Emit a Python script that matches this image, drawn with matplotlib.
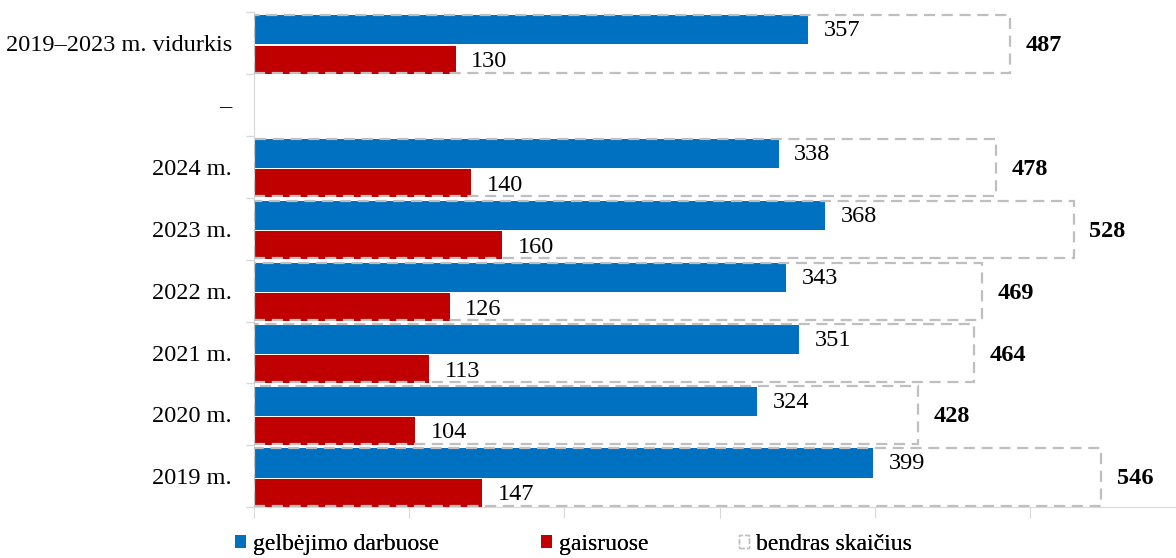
import matplotlib.pyplot as plt
from matplotlib.patches import Patch

# -----------------------------
# DATA
# -----------------------------
categories = ["2019 m.", "2020 m.", "2021 m.", "2022 m.", "2023 m.", "2024 m.", "–", "2019–2023 m. vidurkis"]
rescue = [399, 324, 351, 343, 368, 338, None, 357]
fires = [147, 104, 113, 126, 160, 140, None, 130]
totals = [546, 428, 464, 469, 528, 478, None, 487]

blue = "#0070C0"
red = "#C00000"
grey = "#BFBFBF"

plt.rcParams["font.family"] = ["Liberation Serif", "DejaVu Serif"]
plt.rcParams["font.size"] = 17.5

fig = plt.figure(figsize=(11.76, 5.58), dpi=100)
ax = fig.add_axes([0.216, 0.091, 0.784, 0.887])

# -----------------------------
# BARS
# -----------------------------
for i, cat in enumerate(categories):
    if totals[i] is None:
        continue
    ax.barh(i + 0.215, rescue[i], height=0.47, color=blue, zorder=2)
    ax.barh(i - 0.265, fires[i], height=0.45, color=red, zorder=2)
    ax.barh(i - 0.01, totals[i], height=0.93, facecolor="none", edgecolor=grey,
            linestyle=(0, (5, 3)), linewidth=1.6, zorder=3)

    ax.text(rescue[i] + 10, i + 0.2, str(rescue[i]), va="center", ha="left")
    ax.text(fires[i] + 10, i - 0.3, str(fires[i]), va="center", ha="left")
    ax.text(totals[i] + 10, i - 0.04, str(totals[i]), va="center", ha="left", fontweight="bold")

# -----------------------------
# AXES
# -----------------------------
ax.set_xlim(0, 594)
ax.set_ylim(-0.5, 7.5)
ax.set_yticks(range(len(categories)))
ax.set_yticklabels(categories)
ax.set_yticks([i - 0.5 for i in range(len(categories) + 1)], minor=True)
ax.tick_params(axis="y", which="major", length=0, pad=16)
ax.tick_params(axis="y", which="minor", length=6, color="#D9D9D9", width=1)
ax.set_xticks(range(0, 600, 100))
ax.tick_params(axis="x", length=8, color="#D9D9D9", labelbottom=False)

for side in ["top", "right"]:
    ax.spines[side].set_visible(False)
ax.spines["left"].set_color("#D9D9D9")
ax.spines["bottom"].set_color("#D9D9D9")

# -----------------------------
# LEGEND (one entry per legend, placed like the original)
# -----------------------------
handles = [
    Patch(facecolor=blue, label="gelbėjimo darbuose"),
    Patch(facecolor=red, label="gaisruose"),
    Patch(facecolor="none", edgecolor=grey, linestyle="--", label="bendras skaičius"),
]
legend_x = [0.2, 0.46, 0.628]
for h, x in zip(handles, legend_x):
    leg = fig.legend(handles=[h], loc="center left", bbox_to_anchor=(x, 0.024), frameon=False,
                     handlelength=0.45, handleheight=0.45, handletextpad=0.3,
                     fontsize=17, borderpad=0, borderaxespad=0)
    fig.add_artist(leg)

fig.savefig("out.png", dpi=100)
